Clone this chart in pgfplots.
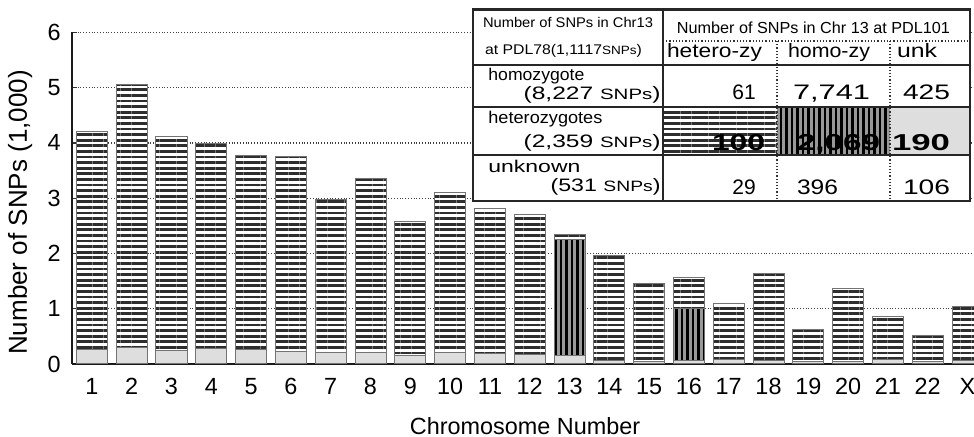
\documentclass[border=0pt]{standalone}
\usepackage{pgfplots}
\pgfplotsset{compat=1.18}
\usepackage{pgfplotstable}
\usepackage{graphicx}
\usepackage{fontspec}
\setmainfont{Liberation Sans}
\usetikzlibrary{patterns.meta}

\newcommand\fw[2]{\resizebox{#1}{\height}{#2}}

\pgfplotstableread{
chr unk het hom
1  0.27 0    3.93
2  0.30 0    4.75
3  0.25 0    3.86
4  0.28 0    3.71
5  0.26 0    3.51
6  0.22 0    3.53
7  0.20 0    2.77
8  0.20 0    3.15
9  0.16 0    2.42
10 0.20 0    2.90
11 0.19 0    2.63
12 0.18 0    2.53
13 0.16 2.10 0.09
14 0.06 0    1.90
15 0.05 0    1.40
16 0.07 0.94 0.56
17 0.08 0    1.02
18 0.06 0    1.57
19 0.04 0    0.59
20 0.05 0    1.31
21 0.08 0    0.78
22 0.04 0    0.47
23 0.06 0    0.98
}\snp

\begin{document}
\begin{tikzpicture}
\begin{axis}[
  scale only axis, width=457.7pt, height=165.8pt,
  ybar stacked, bar width=15.5pt,
  xmin=0.5, xmax=23.5, ymin=0, ymax=6,
  enlargelimits=false,
  xtick={1,...,23},
  xticklabels={1,2,3,4,5,6,7,8,9,10,11,12,13,14,15,16,17,18,19,20,21,22,X},
  ytick={0,1,2,3,4,5,6},
  axis x line*=bottom, axis y line*=left,
  axis line style={line width=0.9pt, black!90},
  ymajorgrids,
  major grid style={densely dotted, line width=0.6pt, black!75},
  tick align=inside, major tick length=2.5pt,
  x tick style={draw=none},
  y tick style={line width=0.6pt, black!80},
  /pgf/number format/assume math mode=true,
  tick label style={font=\fontsize{11.7}{12}\selectfont},
  yticklabel style={inner sep=0pt, xshift=-5.5pt},
  xticklabel style={anchor=base, inner sep=0pt, yshift=-15.5pt},
  xlabel={Chromosome Number},
  ylabel={Number of SNPs (1,000)},
  xlabel style={at={(axis description cs:0.4949,-0.2141)}, anchor=base, inner sep=0pt, font=\fontsize{11.7}{12}\selectfont},
  ylabel style={at={(axis description cs:-0.04916,0.4569)}, anchor=base, inner sep=0pt, font=\fontsize{13}{14}\selectfont},
]
\addplot[fill=black!13, draw=black!55, line width=0.5pt] table[x=chr,y=unk]{\snp};
\addplot[fill=black!40, draw=black!55, line width=0.5pt,
  postaction={pattern={Lines[angle=90,distance=2.75pt,line width=1.2pt]}, pattern color=black}]
  table[x=chr,y=het]{\snp};
\addplot[fill=white, draw=black!55, line width=0.5pt,
  postaction={pattern={Lines[angle=0,distance=2.8pt,line width=1.35pt]}, pattern color=black!82}]
  table[x=chr,y=hom]{\snp};
\end{axis}

% inset table, in pixel coordinates of the reference
\begin{scope}[x=0.5pt,y=-0.5pt,shift={(-36pt,182pt)}]
  \fill[white] (473,9.5) rectangle (970,201);
  \path[fill=white, postaction={pattern={Lines[angle=0,distance=2.8pt,line width=1.35pt]}, pattern color=black!82}] (663,107) rectangle (777,155);
  \path[fill=black!40, postaction={pattern={Lines[angle=90,distance=2.75pt,line width=1.2pt]}, pattern color=black}] (777,107) rectangle (890,155);
  \path[fill=black!13] (890,107) rectangle (970,155);
  \draw[densely dotted, line width=0.6pt, black!80] (663,41) -- (970,41);
  \draw[densely dotted, line width=0.6pt, black!80] (777,41) -- (777,201);
  \draw[densely dotted, line width=0.6pt, black!80] (890,41) -- (890,201);
  \draw[line width=0.8pt, black!85] (473,65) -- (970,65);
  \draw[line width=0.8pt, black!85] (473,107) -- (970,107);
  \draw[line width=0.8pt, black!85] (473,155) -- (970,155);
  \draw[line width=1pt, black!85] (663,9.5) -- (663,201);
  \draw[line width=1.1pt, black!85] (473,9.5) rectangle (970,201);
  \begin{scope}[every node/.style={inner sep=0pt}]
  \node[anchor=base] at (568,28) {\fontsize{7}{8}\selectfont\fw{85pt}{Number of SNPs in Chr13}};
  \node[anchor=base] at (563.5,55) {\fontsize{7}{8}\selectfont\fw{78.5pt}{at PDL78(1,1117{\fontsize{6}{7}\selectfont SNPs})}};
  \node[anchor=base] at (813.5,33.3) {\fontsize{8}{9}\selectfont\fw{136.5pt}{Number of SNPs in Chr 13 at PDL101}};
  \node[anchor=base] at (714.5,57.3) {\fontsize{9.7}{10}\selectfont\fw{47.5pt}{hetero-zy}};
  \node[anchor=base] at (829,57.3) {\fontsize{9.7}{10}\selectfont\fw{41pt}{homo-zy}};
  \node[anchor=base] at (917,57.3) {\fontsize{9.7}{10}\selectfont\fw{20pt}{unk}};
  \node[anchor=base west] at (488,80.5) {\fontsize{8.5}{9}\selectfont\fw{48pt}{homozygote}};
  \node[anchor=base east] at (661,99.5) {\fontsize{9}{10}\selectfont\fw{68.5pt}{(8,227 {\fontsize{7.5}{8}\selectfont SNPs})}};
  \node[anchor=base west] at (488,124) {\fontsize{8.5}{9}\selectfont\fw{57pt}{heterozygotes}};
  \node[anchor=base east] at (661,147.7) {\fontsize{9}{10}\selectfont\fw{68.5pt}{(2,359 {\fontsize{7.5}{8}\selectfont SNPs})}};
  \node[anchor=base west] at (488,172.7) {\fontsize{8.5}{9}\selectfont\fw{46pt}{unknown}};
  \node[anchor=base east] at (661,191.7) {\fontsize{9}{10}\selectfont\fw{55pt}{(531 {\fontsize{7.5}{8}\selectfont SNPs})}};
  \node[anchor=base] at (744,100) {\fontsize{10.5}{11}\selectfont 61};
  \node[anchor=base] at (831.5,100) {\fontsize{10.5}{11}\selectfont\fw{38.5pt}{7,741}};
  \node[anchor=base] at (926.5,100) {\fontsize{10.5}{11}\selectfont\fw{23.5pt}{425}};
  \node[anchor=base] at (738.5,150.5) {\fontsize{11.5}{12}\selectfont\bfseries\fw{26.5pt}{100}};
  \node[anchor=base] at (838.5,150.5) {\fontsize{11.5}{12}\selectfont\bfseries\fw{41.5pt}{2,069}};
  \node[anchor=base] at (921,150.5) {\fontsize{11.5}{12}\selectfont\bfseries\fw{29pt}{190}};
  \node[anchor=base] at (744,195) {\fontsize{10.5}{11}\selectfont 29};
  \node[anchor=base] at (817.5,195) {\fontsize{10.5}{11}\selectfont\fw{20.5pt}{396}};
  \node[anchor=base] at (926.5,195) {\fontsize{10.5}{11}\selectfont\fw{23.5pt}{106}};
  \end{scope}
\end{scope}

\pgfresetboundingbox
\useasboundingbox (-36pt,-36.5pt) rectangle (451pt,182pt);
\end{tikzpicture}
\end{document}
